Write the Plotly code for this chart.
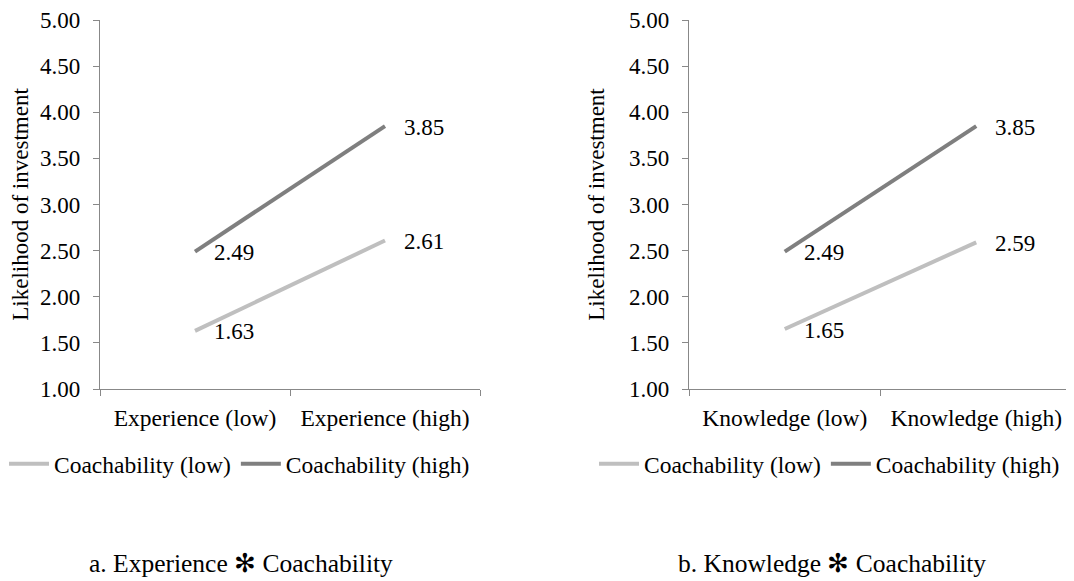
import plotly.graph_objects as go

# The page body has an 8px default margin; size the figure to fit the window.
OFF = 8
W, H = 1074 - OFF, 581 - OFF

categories_a = ["Experience (low)", "Experience (high)"]
categories_b = ["Knowledge (low)", "Knowledge (high)"]
coach_low_a = [1.63, 2.61]
coach_high_a = [2.49, 3.85]
coach_low_b = [1.65, 2.59]
coach_high_b = [2.49, 3.85]
series_names = ["Coachability (low)", "Coachability (high)"]
y_ticks = [1.0, 1.5, 2.0, 2.5, 3.0, 3.5, 4.0, 4.5, 5.0]
captions = ["a. Experience \u273b Coachability", "b. Knowledge \u273b Coachability"]
y_title = "Likelihood of investment"

FONT = "Liberation Serif"
FS = 23.5
TFS = 23
LIGHT = "#BFBFBF"
DARK = "#7F7F7F"
AXIS = "#888888"

fig = go.Figure()

panels = [
    ("x", "y", "legend", categories_a, coach_low_a, coach_high_a),
    ("x2", "y2", "legend2", categories_b, coach_low_b, coach_high_b),
]
for xa, ya, lg, cats, low, high in panels:
    for name, vals, col in [(series_names[0], low, LIGHT), (series_names[1], high, DARK)]:
        fig.add_trace(go.Scatter(
            x=cats, y=vals, mode="lines", name=name,
            line=dict(color=col, width=4),
            xaxis=xa, yaxis=ya, legend=lg, showlegend=True, hoverinfo="skip",
        ))
        for c, v in zip(cats, vals):
            fig.add_annotation(
                x=c, y=v, xref=xa, yref=ya, text=f"{v:.2f}", showarrow=False,
                xanchor="left", yanchor="middle", xshift=17, yshift=-1,
                font=dict(family=FONT, size=TFS, color="#000000"),
            )

def px_x(p):
    return (p - OFF) / W

def px_y(p):
    return 1 - (p - OFF) / H

ydom = [px_y(389), px_y(20)]
common_x = dict(
    type="category", range=[-0.5, 1.5], tickson="boundaries", ticks="outside",
    ticklen=6, tickcolor=AXIS, showline=True, linecolor=AXIS, linewidth=1.3,
    showgrid=False, zeroline=False, ticklabelstandoff=8, automargin=False,
    tickfont=dict(family=FONT, size=FS, color="#000000"),
)
common_y = dict(
    range=[1, 5], tickvals=y_ticks, ticktext=[f"{t:.2f}" for t in y_ticks],
    ticks="outside", ticklen=6, tickcolor=AXIS, showline=True, linecolor=AXIS,
    linewidth=1.3, showgrid=False, zeroline=False, ticklabelstandoff=8, automargin=False,
    tickfont=dict(family=FONT, size=TFS, color="#000000"),
    title=dict(text=y_title, font=dict(family=FONT, size=TFS, color="#000000"), standoff=17),
)

fig.update_layout(
    width=W, height=H, margin=dict(l=0, r=0, t=0, b=0, autoexpand=False),
    paper_bgcolor="white", plot_bgcolor="white",
    xaxis=dict(domain=[px_x(100), px_x(480)], anchor="y", **common_x),
    yaxis=dict(domain=ydom, anchor="x", **common_y),
    xaxis2=dict(domain=[px_x(689), px_x(1072)], anchor="y2", **common_x),
    yaxis2=dict(domain=ydom, anchor="x2", **common_y),
    legend=dict(orientation="h", x=px_x(4), y=px_y(464), xanchor="left", yanchor="middle",
                font=dict(family=FONT, size=FS, color="#000000"), itemwidth=40,
                bgcolor="rgba(0,0,0,0)", tracegroupgap=0),
    legend2=dict(orientation="h", x=px_x(594), y=px_y(464), xanchor="left", yanchor="middle",
                 font=dict(family=FONT, size=FS, color="#000000"), itemwidth=40,
                 bgcolor="rgba(0,0,0,0)", tracegroupgap=0),
    showlegend=True,
)

for cap, cx in zip(captions, [241, 832]):
    fig.add_annotation(
        x=px_x(cx), y=px_y(563), xref="paper", yref="paper", text=cap, showarrow=False,
        xanchor="center", yanchor="middle",
        font=dict(family=FONT, size=25.5, color="#000000"),
    )

fig.write_html("out.html")
